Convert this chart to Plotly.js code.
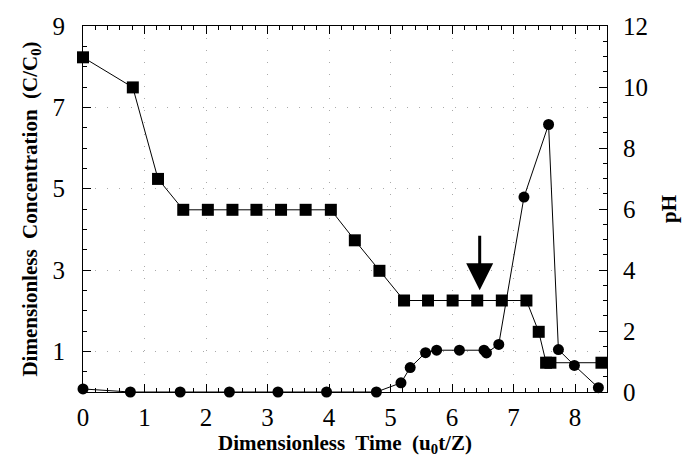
<!DOCTYPE html>
<html>
<head>
<meta charset="utf-8">
<script src="https://cdn.plot.ly/plotly-3.0.1.min.js"></script>
<style>html,body{margin:0;padding:0;background:#fff;}#chart{width:684px;height:457px;}</style>
</head>
<body>
<div id="chart"></div>
<script>
// Dimensionless concentration (squares, left axis)
const concX = [0, 0.81, 1.22, 1.63, 2.03, 2.43, 2.82, 3.22, 3.62, 4.03, 4.42, 4.82, 5.22, 5.61, 6.01, 6.41, 6.81, 7.21, 7.41, 7.53, 7.60, 8.43];
const concY = [8.23, 7.49, 5.24, 4.48, 4.48, 4.48, 4.48, 4.48, 4.48, 4.48, 3.73, 2.98, 2.25, 2.25, 2.25, 2.25, 2.25, 2.25, 1.48, 0.72, 0.72, 0.72];
// pH (circles, right axis)
const phX = [0, 0.77, 1.58, 2.38, 3.17, 3.96, 4.77, 5.17, 5.32, 5.57, 5.75, 6.12, 6.52, 6.56, 6.76, 7.17, 7.57, 7.73, 7.99, 8.38];
const phY = [0.1, 0, 0, 0, 0, 0, 0, 0.3, 0.8, 1.29, 1.37, 1.37, 1.37, 1.28, 1.56, 6.39, 8.77, 1.39, 0.87, 0.14];
// Tick values
const xTicks = [0, 1, 2, 3, 4, 5, 6, 7, 8];
const yLeftTicks = [1, 3, 5, 7, 9];
const yRightTicks = [0, 2, 4, 6, 8, 10, 12];
// Arrow marker (tail -> tip) in data units
const arrowX = 6.45, arrowTipY = 2.5, arrowTailY = 3.88;

const serif = 'Liberation Serif, Times New Roman, serif';

const traces = [
  {
    x: concX, y: concY, type: 'scatter', mode: 'lines+markers', yaxis: 'y',
    line: {color: '#000', width: 1},
    marker: {symbol: 'square', size: 12, color: '#000'},
    cliponaxis: false, showlegend: false
  },
  {
    x: phX, y: phY, type: 'scatter', mode: 'lines+markers', yaxis: 'y2',
    line: {color: '#000', width: 1},
    marker: {symbol: 'circle', size: 11, color: '#000'},
    cliponaxis: false, showlegend: false
  }
];

const layout = {
  width: 684, height: 457,
  margin: {l: 83, r: 77, t: 26, b: 65},
  paper_bgcolor: '#fff', plot_bgcolor: '#fff',
  font: {family: serif, color: '#000'},
  xaxis: {
    range: [0, 8.52], tickvals: xTicks, ticktext: xTicks.map(String),
    ticks: 'inside', ticklen: 8, tickwidth: 1, tickcolor: '#000',
    minor: {dtick: 0.2, ticks: 'inside', ticklen: 4, tickcolor: '#000', showgrid: false},
    showline: true, linecolor: '#000', linewidth: 1, mirror: 'ticks',
    showgrid: true, gridcolor: '#aaa', griddash: '1px,11px', gridwidth: 1,
    zeroline: false,
    tickfont: {family: serif, size: 25, color: '#000'},
    ticklabelstandoff: 3,
    title: {text: 'Dimensionless&nbsp; Time&nbsp; (u<sub>0</sub>t/Z)', font: {family: serif, size: 21, color: '#000', weight: 'bold'}, standoff: 4}
  },
  yaxis: {
    range: [0, 9], tickvals: yLeftTicks, ticktext: yLeftTicks.map(String),
    ticks: 'inside', ticklen: 8, tickwidth: 1, tickcolor: '#000',
    minor: {dtick: 0.5, ticks: 'inside', ticklen: 4, tickcolor: '#000', showgrid: false},
    showline: true, linecolor: '#000', linewidth: 1, mirror: false,
    showgrid: true, gridcolor: '#aaa', griddash: '1px,11px', gridwidth: 1,
    zeroline: false,
    tickfont: {family: serif, size: 25, color: '#000'},
    ticklabelstandoff: 12,
    title: {text: 'Dimensionless&nbsp; Concentration&nbsp; (C/C<sub>0</sub>)', font: {family: serif, size: 21, color: '#000', weight: 'bold'}, standoff: 9}
  },
  yaxis2: {
    overlaying: 'y', side: 'right', range: [0, 12],
    tickvals: yRightTicks, ticktext: yRightTicks.map(String),
    ticks: 'inside', ticklen: 8, tickwidth: 1, tickcolor: '#000',
    minor: {dtick: 0.5, ticks: 'inside', ticklen: 4, tickcolor: '#000', showgrid: false},
    showline: true, linecolor: '#000', linewidth: 1,
    showgrid: false, zeroline: false,
    tickfont: {family: serif, size: 25, color: '#000'},
    ticklabelstandoff: 10,
    title: {text: 'pH', font: {family: serif, size: 21, color: '#000', weight: 'bold'}, standoff: 14}
  },
  annotations: [
    {
      x: arrowX, y: arrowTipY, ax: arrowX, ay: arrowTailY,
      xref: 'x', yref: 'y', axref: 'x', ayref: 'y',
      text: '', showarrow: true, arrowhead: 2, arrowwidth: 3, arrowsize: 1.8,
      arrowcolor: '#000', standoff: 0, startstandoff: 0
    }
  ]
};

Plotly.newPlot('chart', traces, layout, {displayModeBar: false, staticPlot: true});
</script>
</body>
</html>
